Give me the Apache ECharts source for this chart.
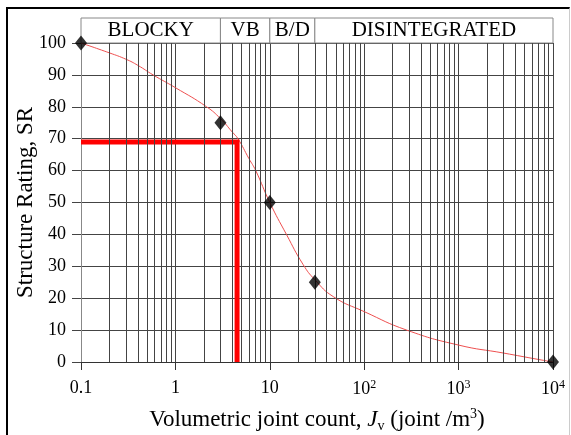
<!DOCTYPE html>
<html>
<head>
<meta charset="utf-8">
<script src="https://cdn.jsdelivr.net/npm/echarts@6/dist/echarts.min.js"></script>
<style>
  html, body { margin: 0; padding: 0; background: #fff; }
  #chart { width: 571px; height: 435px; }
  #frame {
    position: absolute; left: 6px; top: 7px; width: 561px; height: 440px;
    border-left: 2px solid #000; border-top: 2px solid #000; border-right: 1px solid #ccc;
    pointer-events: none;
  }
</style>
</head>
<body>
<div id="chart"></div>
<div id="frame"></div>
<script>
// measured points (diamonds)
const pointJv = [0.1, 3, 10, 30, 10000];
const pointSR = [100, 75, 50, 25, 0];

// fitted curve
const curveJv = [0.1, 0.2, 0.3, 0.4, 0.58, 1, 2.14, 3, 4, 4.6, 6, 7.1, 10, 15, 22.6, 30, 47, 100, 282, 1000, 3000, 7000, 10000];
const curveSR = [100, 96.9, 94.9, 93, 90, 86, 80, 76.3, 72.1, 70, 63.8, 60, 50, 40, 30.5, 25.8, 20.5, 15.8, 10, 5.3, 2.8, 0.8, 0];

// example reading (thick red line)
const exampleJv = [0.1, 4.5, 4.5];
const exampleSR = [69, 69, 0];

// structure classes along the top
const classBounds = [0.1, 3, 10, 30, 10000];
const classNames = ["BLOCKY", "VB", "B/D", "DISINTEGRATED"];

// tick labels
const xTickLabels = ["0.1", "1", "10", "10{sup|2}", "10{sup|3}", "10{sup|4}"];
const decades = [0.1, 1, 10, 100, 1000];
const minorMultipliers = [2, 3, 4, 5, 6, 7, 8, 9];

const FONT = "Liberation Serif";
const GRID_COLOR = "#444";

const minorLines = [];
decades.forEach((d) => {
  minorMultipliers.forEach((m) => minorLines.push({ xAxis: +(d * m).toPrecision(3) }));
});

const chart = echarts.init(document.getElementById("chart"));

const option = {
  animation: false,
  backgroundColor: "#fff",
  grid: [
    { left: 81, right: 18, top: 43, bottom: 73, outerBoundsMode: "none" },
    { left: 81, right: 18, top: 18, height: 25, outerBoundsMode: "none" },
  ],
  xAxis: [
    {
      type: "log",
      logBase: 10,
      min: 0.1,
      max: 10000,
      name: "{n|Volumetric joint count, }{i|J}{sub|v}{n| (joint /m}{sup|3}{n|)}",
      nameLocation: "middle",
      nameGap: 45,
      nameMoveOverlap: false,
      nameTextStyle: {
        rich: {
          n: { fontFamily: FONT, fontSize: 23, color: "#000", lineHeight: 26 },
          i: { fontFamily: FONT, fontSize: 23, fontStyle: "italic", color: "#000", lineHeight: 26 },
          sub: { fontFamily: FONT, fontSize: 14, color: "#000", verticalAlign: "bottom", lineHeight: 24 },
          sup: { fontFamily: FONT, fontSize: 14, color: "#000", verticalAlign: "top", lineHeight: 26 },
        },
      },
      axisLine: { show: true, lineStyle: { color: "#333", width: 1 } },
      axisTick: { show: true, length: 8, lineStyle: { color: "#333" } },
      axisLabel: {
        margin: 17,
        fontFamily: FONT,
        fontSize: 18,
        color: "#000",
        formatter: (v) => xTickLabels[Math.round(Math.log10(v)) + 1],
        rich: {
          sup: { fontFamily: FONT, fontSize: 12, color: "#000", verticalAlign: "top", lineHeight: 20 },
        },
      },
      splitLine: { show: true, lineStyle: { color: GRID_COLOR, width: 1 } },
    },
    {
      gridIndex: 1,
      type: "log",
      logBase: 10,
      min: 0.1,
      max: 10000,
      show: false,
    },
  ],
  yAxis: [
    {
      type: "value",
      min: 0,
      max: 100,
      interval: 10,
      name: "Structure Rating, SR",
      nameLocation: "middle",
      nameGap: 44,
      nameMoveOverlap: false,
      nameTextStyle: { fontFamily: FONT, fontSize: 23, color: "#000" },
      axisLine: { show: true, lineStyle: { color: "#888" } },
      axisTick: { show: true, length: 9, lineStyle: { color: GRID_COLOR } },
      axisLabel: { margin: 15, fontFamily: FONT, fontSize: 18, color: "#000" },
      splitLine: { show: true, lineStyle: { color: GRID_COLOR, width: 1 } },
    },
    { gridIndex: 1, type: "value", min: 0, max: 1, show: false },
  ],
  series: [
    {
      // minor grid lines 2..9 in each decade
      type: "line",
      data: [],
      silent: true,
      z: 1,
      markLine: {
        silent: true,
        symbol: ["none", "none"],
        label: { show: false },
        lineStyle: { color: GRID_COLOR, width: 1, type: "solid" },
        data: minorLines,
      },
    },
    {
      // class header band
      type: "line",
      xAxisIndex: 1,
      yAxisIndex: 1,
      data: [],
      silent: true,
      markArea: {
        silent: true,
        itemStyle: { color: "#fff", opacity: 1, borderColor: "#888", borderWidth: 1 },
        label: {
          show: true,
          position: "inside",
          fontFamily: FONT,
          fontSize: 21,
          color: "#000",
        },
        data: classNames.map((name, i) => [
          { name: name, xAxis: classBounds[i] },
          { xAxis: classBounds[i + 1] },
        ]),
      },
    },
    {
      name: "curve",
      type: "line",
      data: curveJv.map((x, i) => [x, curveSR[i]]),
      smooth: 0.5,
      showSymbol: false,
      lineStyle: { color: "#ee5050", width: 1 },
      z: 3,
    },
    {
      name: "example",
      type: "line",
      data: exampleJv.map((x, i) => [x, exampleSR[i]]),
      showSymbol: false,
      lineStyle: { color: "#ff0000", width: 5, cap: "butt", join: "miter" },
      z: 4,
    },
    {
      name: "points",
      type: "scatter",
      data: pointJv.map((x, i) => [x, pointSR[i]]),
      symbol: "diamond",
      symbolSize: [12, 15],
      itemStyle: { color: "#000" },
      z: 5,
    },
  ],
};

chart.setOption(option);
</script>
</body>
</html>
